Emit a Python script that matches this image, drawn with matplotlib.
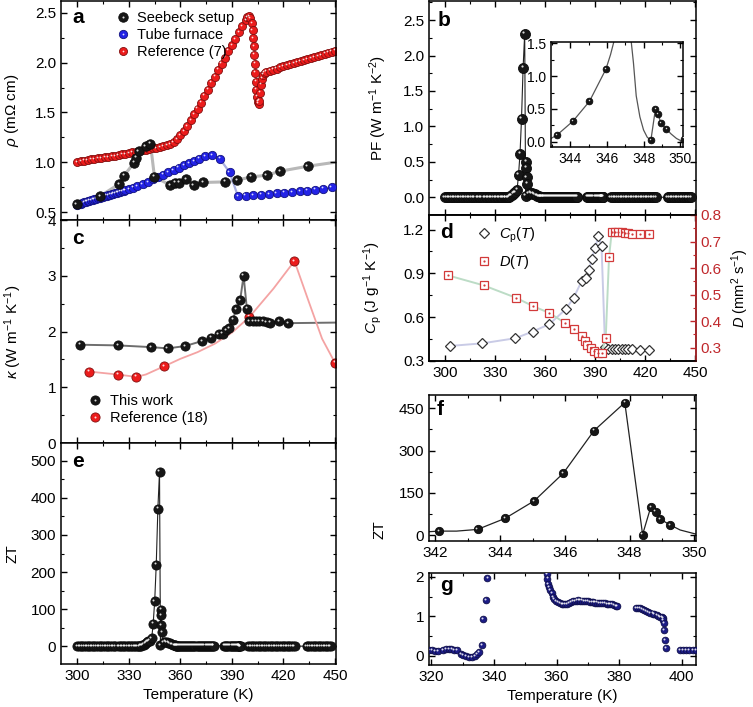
import matplotlib
matplotlib.use("Agg")
import matplotlib.pyplot as plt
import matplotlib.colors as mcolors
from matplotlib.ticker import MultipleLocator, NullFormatter
from matplotlib.transforms import offset_copy

plt.rcParams['font.family'] = ['Liberation Sans', 'DejaVu Sans']
plt.rcParams['mathtext.fontset'] = 'custom'
plt.rcParams['mathtext.rm'] = 'Liberation Sans'
plt.rcParams['mathtext.it'] = 'Liberation Sans:italic'
plt.rcParams['mathtext.bf'] = 'Liberation Sans:bold'
plt.rcParams['font.size'] = 10
plt.rcParams['axes.linewidth'] = 1.1

# ---------------- data ----------------
# (a) resistivity
T_see = [299.6, 313.2, 324.2, 327.1, 332.9, 334.4, 335.8, 339.7, 342.6, 344.9, 354.2,
         357.1, 359.4, 363.5, 367.7, 373.2, 386.1, 392.9, 401.2, 410.3, 418.0, 434.1]
rho_see = [0.577, 0.66, 0.78, 0.863, 0.993, 1.043, 1.113, 1.163, 1.187, 0.853, 0.77,
           0.793, 0.793, 0.827, 0.77, 0.797, 0.803, 0.82, 0.853, 0.87, 0.91, 0.96]
T_see_end = [450.0]
rho_see_end = [1.0]

T_tube = [300, 301, 302, 303, 304, 305, 306, 307, 308, 309, 310, 311, 312, 313, 314,
          315, 316, 317, 318, 319, 320, 321, 322, 323, 324, 325, 326, 327, 328,
          330, 332.5, 335, 338, 341, 344, 347, 350, 353, 356,
          359, 362, 365, 368, 371, 374.5, 378.5, 383, 388.6, 393.5,
          398, 402.5, 407, 411.5, 416, 420.5, 425, 429.5, 434, 438.5, 443, 448]
rho_tube = [0.575, 0.58, 0.585, 0.59, 0.60, 0.605, 0.61, 0.615, 0.62, 0.625,
            0.63, 0.635, 0.64, 0.645, 0.65, 0.655, 0.66, 0.665, 0.67, 0.675,
            0.68, 0.685, 0.69, 0.695, 0.70, 0.705, 0.71, 0.715, 0.72,
            0.73, 0.745, 0.76, 0.78, 0.80, 0.83, 0.85, 0.875, 0.90, 0.92,
            0.945, 0.97, 0.99, 1.01, 1.035, 1.06, 1.07, 1.035, 0.90, 0.66,
            0.665, 0.67, 0.675, 0.68, 0.69, 0.695, 0.70, 0.71, 0.715, 0.725, 0.735, 0.75]

T_ref7 = [300, 302, 304, 306, 308, 310, 312, 314, 316, 318, 320, 322, 324, 326, 328,
          330, 332, 334, 336, 338, 340, 342, 344, 346, 348, 350, 352, 354, 356, 358,
          360, 362, 364, 366, 368, 370, 372, 374, 376, 378, 380, 382, 384, 386, 388,
          390, 392, 394, 396, 398, 399, 400, 400.8, 401.5, 402, 402.4, 402.8, 403.1,
          403.4, 403.7, 404.0, 404.3, 404.6, 405.0, 405.5, 406.0, 406.5, 407.0, 407.5,
          408.2, 409, 410, 412, 414, 416, 418, 420, 422, 424, 426, 428, 430, 432, 434,
          436, 438, 440, 442, 444, 446, 448, 450]
rho_ref7 = [1.00, 1.01, 1.015, 1.02, 1.03, 1.035, 1.04, 1.045, 1.05, 1.055,
            1.06, 1.065, 1.075, 1.08, 1.085, 1.09, 1.10, 1.105, 1.11, 1.12,
            1.125, 1.13, 1.14, 1.145, 1.15, 1.16, 1.17, 1.18, 1.20, 1.23,
            1.27, 1.31, 1.36, 1.42, 1.48, 1.54, 1.60, 1.67, 1.73, 1.80,
            1.86, 1.93, 1.99, 2.05, 2.12, 2.18, 2.24, 2.31, 2.37, 2.43,
            2.46, 2.47, 2.45, 2.40, 2.33, 2.25, 2.17, 2.08, 1.99, 1.90,
            1.81, 1.73, 1.66, 1.61, 1.59, 1.62, 1.70, 1.78, 1.84, 1.88,
            1.90, 1.91, 1.92, 1.93, 1.94, 1.955, 1.965, 1.975, 1.985, 1.995,
            2.005, 2.015, 2.025, 2.035, 2.045, 2.055, 2.065, 2.075, 2.09, 2.10, 2.11, 2.12]

# (c) thermal conductivity
T_kap = [301.5, 323.6, 343.0, 352.6, 362.7, 372.6, 377.8, 382.2, 384.6, 386.5, 388.4,
         390.6, 392.5, 394.8, 396.8, 398.7, 400.2, 402.2, 404.1, 406.0, 408.0, 410.3,
         412.2, 417.7, 422.9]
kap = [1.763, 1.751, 1.72, 1.697, 1.739, 1.829, 1.889, 1.955, 1.961, 2.02, 2.063,
       2.213, 2.40, 2.562, 3.0, 2.41, 2.18, 2.18, 2.18, 2.18, 2.18, 2.17, 2.16, 2.18, 2.15]
T_kap_end = [450.0]
kap_end = [2.16]
T_kap18 = [306.8, 323.6, 334.4, 350.7, 400.2, 426.4, 450.0]
kap18 = [1.282, 1.228, 1.186, 1.378, 2.261, 3.264, 1.438]
T_kap18_fit = [306.8, 323.6, 334.4, 340.0, 345.0, 350.7, 360.0, 370.0, 380.0, 390.0,
               400.2, 414.2, 426.4, 434.8, 442.5, 450.0]
kap18_fit = [1.282, 1.228, 1.186, 1.23, 1.30, 1.378, 1.51, 1.63, 1.78, 1.98,
             2.261, 2.77, 3.264, 2.53, 1.87, 1.438]

# (b, e, f, g) power factor and ZT, same temperature points
T_zt = [300.0, 301.0, 302.0, 303.0, 304.0, 305.0, 306.0, 307.0, 308.0, 309.0, 310.0,
        311.0, 312.0, 313.0, 314.0, 315.0, 316.0, 317.0, 318.0, 319.3, 320.2, 321.1, 322.1,
        323.7, 324.6, 325.5, 326.4, 327.3, 328.1,
        329.3, 330.2, 331.1, 332.0, 332.9, 333.8, 334.5, 335.2, 336.0, 336.4, 337.3,
        337.9, 338.6, 339.3, 340.0, 340.8, 341.4,
        342.1, 343.3, 344.15, 345.05, 345.95, 346.9, 347.85, 348.4, 348.65, 348.8,
        348.95, 349.25,
        350.2, 351.1, 352.0, 352.9, 353.8, 354.7, 355.5, 356.2, 356.8, 357.1,
        357.4, 357.7, 358.0, 358.4, 358.8, 359.3, 359.8, 360.4, 361.0, 361.6,
        362.2, 362.8, 363.4, 364.0, 364.6, 365.2, 365.8, 366.4, 367.0, 367.6,
        368.2, 368.8, 369.4, 370.0, 370.6, 371.2, 371.8, 372.4, 373.0, 373.6,
        374.2, 374.8, 375.4, 376.0, 376.6, 377.2, 377.8, 378.4, 379.0, 379.3,
        385.4, 386.0, 386.7, 387.3, 388.0, 388.6, 389.3, 390.0, 390.7, 391.3,
        392.0, 392.6, 393.1, 393.6, 393.9, 394.1, 394.3, 394.4, 394.7, 395.0,
        399.5, 400.5, 401.5, 402.5, 403.5, 404.5, 405.5, 406.5, 407.5, 408.5,
        409.5, 410.5, 411.5, 412.5, 413.5, 414.5, 415.5, 416.5, 417.5, 418.5,
        419.5, 420.5, 421.5, 422.5, 423.5, 424.5, 425.5, 426.5,
        433.5, 434.5, 435.5, 436.5, 437.5, 438.5, 439.5, 440.5, 441.5, 442.5,
        443.5, 444.5, 445.5, 446.5, 447.5]
zt = [0.13, 0.13, 0.13, 0.13, 0.13, 0.13, 0.13, 0.13, 0.13, 0.13, 0.13,
      0.13, 0.13, 0.13, 0.13, 0.13, 0.13, 0.13, 0.13, 0.14, 0.13, 0.11, 0.11,
      0.15, 0.16, 0.16, 0.16, 0.15, 0.15,
      0.03, 0.01, -0.02, -0.04, -0.04, -0.01, 0.04, 0.09, 0.27, 0.92, 1.41,
      1.97, 4.0, 7.0, 10.0, 12.0, 13.0,
      15, 21, 60, 122, 220, 371, 470, 3, 99, 84,
      57, 37,
      11, 12, 11, 10, 8, 6, 4, 2.8, 2.08, 1.96,
      1.83, 1.74, 1.66, 1.58, 1.50, 1.44, 1.39, 1.36, 1.34, 1.32,
      1.31, 1.31, 1.32, 1.34, 1.36, 1.38, 1.39, 1.40, 1.41, 1.40,
      1.40, 1.39, 1.38, 1.38, 1.37, 1.36, 1.36, 1.35, 1.35, 1.34,
      1.34, 1.33, 1.33, 1.32, 1.32, 1.31, 1.30, 1.29, 1.27, 1.25,
      1.22, 1.21, 1.20, 1.18, 1.16, 1.14, 1.11, 1.09, 1.07, 1.05,
      1.03, 1.01, 0.99, 0.97, 0.95, 0.90, 0.82, 0.65, 0.40, 0.19,
      0.14, 0.14, 0.14, 0.14, 0.14, 0.14, 0.14, 0.14, 0.14, 0.14,
      0.14, 0.14, 0.14, 0.14, 0.14, 0.14, 0.14, 0.14, 0.14, 0.14,
      0.14, 0.14, 0.14, 0.14, 0.14, 0.14, 0.14, 0.14,
      0.14, 0.14, 0.14, 0.14, 0.14, 0.14, 0.14, 0.14, 0.14, 0.14,
      0.14, 0.14, 0.14, 0.14, 0.14]
pf = [0.0, 0.0, 0.0, 0.0, 0.0, 0.0, 0.0, 0.0, 0.0, 0.0, 0.0,
      0.0, 0.0, 0.0, 0.0, 0.0, 0.0, 0.0, 0.0, 0.0, 0.0, 0.0, 0.0,
      0.0, 0.0, 0.0, 0.0, 0.0, 0.0,
      0.0, 0.0, 0.0, 0.0, 0.0, 0.0, 0.0, 0.0, 0.0, 0.0, 0.0,
      0.0, 0.01, 0.02, 0.03, 0.045, 0.06,
      0.07, 0.108, 0.315, 0.617, 1.109, 1.83, 2.31, 0.025, 0.503, 0.419,
      0.281, 0.192,
      0.05, 0.06, 0.055, 0.05, 0.04, 0.03, 0.02, 0.014, 0.01, 0.01,
      0.01, 0.01, 0.01, 0.01, 0.01, 0.01, 0.01, 0.01, 0.01, 0.01,
      0.01, 0.01, 0.01, 0.01, 0.01, 0.01, 0.01, 0.01, 0.01, 0.01,
      0.01, 0.01, 0.01, 0.01, 0.01, 0.01, 0.01, 0.01, 0.01, 0.01,
      0.01, 0.01, 0.01, 0.01, 0.01, 0.01, 0.01, 0.01, 0.01, 0.01,
      0.01, 0.01, 0.01, 0.01, 0.01, 0.01, 0.01, 0.01, 0.01, 0.01,
      0.01, 0.01, 0.01, 0.01, 0.01, 0.01, 0.01, 0.01, 0.01, 0.01,
      0.0, 0.0, 0.0, 0.0, 0.0, 0.0, 0.0, 0.0, 0.0, 0.0,
      0.0, 0.0, 0.0, 0.0, 0.0, 0.0, 0.0, 0.0, 0.0, 0.0,
      0.0, 0.0, 0.0, 0.0, 0.0, 0.0, 0.0, 0.0,
      0.0, 0.0, 0.0, 0.0, 0.0, 0.0, 0.0, 0.0, 0.0, 0.0,
      0.0, 0.0, 0.0, 0.0, 0.0]

# fitted guide curves
T_ins_fit = [342.95, 343.3, 344.15, 345.05, 345.95, 346.2, 346.45, 347.3, 347.45, 347.6,
             347.8, 348.0, 348.2, 348.4, 348.65, 348.8, 348.95, 349.25, 349.5, 349.8, 350.15]
pf_ins_fit = [0.05, 0.108, 0.315, 0.617, 1.109, 1.33, 1.6, 1.6, 1.2, 0.7,
              0.38, 0.18, 0.07, 0.025, 0.503, 0.419, 0.281, 0.192, 0.12, 0.05, 0.0]
T_f_fit = [341.82, 342.1, 342.65, 343.3, 344.15, 345.05, 345.95, 346.9, 347.85, 348.4,
           348.65, 348.8, 348.95, 349.25, 349.56, 350.03]
zt_f_fit = [13, 15, 15, 21, 60, 122, 220, 371, 470, 3, 99, 84, 57, 37, 19, 5]

# (d) heat capacity and diffusivity
T_cp = [303.0, 322.5, 342.3, 352.7, 362.6, 372.5, 377.1, 381.9, 384.4, 386.4, 388.0,
        390.0, 392.0, 393.9, 396.0, 398.0, 400.0, 402.0, 404.0, 406.0, 408.0, 410.0,
        412.3, 417.2, 422.2]
cp = [0.403, 0.421, 0.456, 0.502, 0.552, 0.655, 0.731, 0.845, 0.868, 0.925, 0.998,
      1.074, 1.154, 1.085, 0.398, 0.379, 0.38, 0.38, 0.38, 0.38, 0.38, 0.38,
      0.379, 0.376, 0.376]
T_dif = [301.6, 323.2, 342.7, 352.7, 362.6, 372.1, 377.1, 382.1, 383.9, 385.4, 387.4,
         389.4, 391.8, 393.9, 396.4, 398.4, 400.0, 402.0, 404.0, 406.0, 408.0, 410.0,
         412.3, 417.2, 422.2]
dif = [0.573, 0.535, 0.488, 0.457, 0.431, 0.393, 0.372, 0.343, 0.324, 0.311, 0.299,
       0.286, 0.28, 0.28, 0.336, 0.642, 0.736, 0.736, 0.736, 0.735, 0.734, 0.732,
       0.730, 0.730, 0.727]


def darker(c, f=0.55):
    r, g, b = mcolors.to_rgb(c)
    return (r * f, g * f, b * f)


def balls(ax, x, y, color, ms, z=3, hl=0.22):
    h1, = ax.plot(x, y, ls='none', marker='o', ms=ms, mfc=color, mec=darker(color),
                  mew=0.6, zorder=z)
    tr = offset_copy(ax.transData, fig=ax.figure, x=-ms * 0.14, y=ms * 0.16, units='points')
    h2, = ax.plot(x, y, ls='none', marker='o', ms=ms * hl, mfc='white', mec='none',
                  alpha=0.85, zorder=z + 0.1, transform=tr)
    return (h1, h2)


def style(ax, xmaj, xmin, ymaj, ymin, right=True):
    ax.xaxis.set_major_locator(MultipleLocator(xmaj))
    ax.xaxis.set_minor_locator(MultipleLocator(xmin))
    ax.yaxis.set_major_locator(MultipleLocator(ymaj))
    ax.yaxis.set_minor_locator(MultipleLocator(ymin))
    ax.tick_params(which='both', direction='in', top=True, right=right, labelsize=11)
    ax.tick_params(which='major', length=4.5, width=1)
    ax.tick_params(which='minor', length=2.5, width=0.8)


def letter(ax, s, x, y):
    ax.text(x, y, s, transform=ax.transAxes, fontsize=15, fontweight='bold',
            ha='left', va='center')


fig = plt.figure(figsize=(7.53, 7.07), dpi=100)

ax_a = fig.add_axes([0.081, 0.6888, 0.365, 0.3098])
ax_c = fig.add_axes([0.081, 0.3734, 0.365, 0.3154])
ax_e = fig.add_axes([0.081, 0.0608, 0.365, 0.3126])
ax_b = fig.add_axes([0.5697, 0.6959, 0.3546, 0.3027])
ax_d = fig.add_axes([0.5697, 0.4894, 0.3546, 0.2065])
ax_f = fig.add_axes([0.5697, 0.2348, 0.3546, 0.2065])
ax_g = fig.add_axes([0.5697, 0.0594, 0.3546, 0.1301])
ax_i = fig.add_axes([0.7317, 0.792, 0.1753, 0.1485])

xl = (290.5, 450.5)

# ---- a ----
ax_a.plot(T_see + T_see_end, rho_see + rho_see_end, color='#b8b8b8', lw=2.2, zorder=1)
ax_a.plot(T_tube, rho_tube, color='#a9aee0', lw=1.6, zorder=1)
h_ref7 = balls(ax_a, T_ref7, rho_ref7, '#ec1c1c', 5.8, z=2)
h_tube = balls(ax_a, T_tube, rho_tube, '#2323e6', 6.0, z=3)
h_see = balls(ax_a, T_see, rho_see, '#161616', 6.8, z=4)
ax_a.set_xlim(*xl)
ax_a.set_ylim(0.42, 2.62)
style(ax_a, 30, 15, 0.5, 0.25)
ax_a.xaxis.set_major_formatter(NullFormatter())
ax_a.set_ylabel(r'$\rho$ (m$\Omega$ cm)', fontsize=11)
ax_a.yaxis.set_label_coords(-0.145, 0.5)
ax_a.legend([h_see, h_tube, h_ref7], ['Seebeck setup', 'Tube furnace', 'Reference (7)'],
            loc='upper left', bbox_to_anchor=(0.15, 1.015), frameon=False, fontsize=10.5,
            handlelength=1.0, handletextpad=0.5, labelspacing=0.2)
letter(ax_a, 'a', 0.04, 0.925)

# ---- c ----
ax_c.plot(T_kap + T_kap_end, kap + kap_end, color='#6e6e6e', lw=1.4, zorder=1)
ax_c.plot(T_kap18_fit, kap18_fit, color='#f4a3a3', lw=1.3, zorder=1)
h_tw = balls(ax_c, T_kap, kap, '#161616', 6.6, z=3)
h_18 = balls(ax_c, T_kap18, kap18, '#ec1c1c', 6.6, z=2)
ax_c.set_xlim(*xl)
ax_c.set_ylim(0, 4)
style(ax_c, 30, 15, 1, 0.5)
ax_c.xaxis.set_major_formatter(NullFormatter())
ax_c.set_ylabel(r'$\kappa$ (W m$^{-1}$ K$^{-1}$)', fontsize=11)
ax_c.yaxis.set_label_coords(-0.135, 0.5)
ax_c.legend([h_tw, h_18], ['This work', 'Reference (18)'], loc='lower left',
            bbox_to_anchor=(0.05, 0.02), frameon=False, fontsize=10.5,
            handlelength=1.0, handletextpad=0.5, labelspacing=0.25)
letter(ax_c, 'c', 0.04, 0.915)

# ---- e ----
ax_e.plot(T_zt, zt, color='#222222', lw=0.8, zorder=1)
balls(ax_e, T_zt, zt, '#161616', 6.6, z=3)
ax_e.set_xlim(*xl)
ax_e.set_ylim(-48, 548)
style(ax_e, 30, 15, 100, 50)
ax_e.set_ylabel('ZT', fontsize=11)
ax_e.yaxis.set_label_coords(-0.15, 0.5)
ax_e.set_xlabel('Temperature (K)', fontsize=11)
ax_e.xaxis.set_label_coords(0.5, -0.11)
letter(ax_e, 'e', 0.04, 0.915)

# ---- b ----
ax_b.plot(T_zt, pf, color='#222222', lw=0.8, zorder=1)
balls(ax_b, T_zt, pf, '#161616', 7.2, z=3)
ax_b.set_xlim(*xl)
ax_b.set_ylim(-0.25, 2.77)
style(ax_b, 30, 15, 0.5, 0.25)
ax_b.xaxis.set_major_formatter(NullFormatter())
ax_b.set_ylabel(r'PF (W m$^{-1}$ K$^{-2}$)', fontsize=11)
ax_b.yaxis.set_label_coords(-0.15, 0.5)
letter(ax_b, 'b', 0.033, 0.907)

# inset
ax_i.plot(T_ins_fit, pf_ins_fit, color='#555555', lw=0.9, zorder=1)
balls(ax_i, T_zt, pf, '#161616', 4.8, z=3)
ax_i.set_xlim(342.95, 350.15)
ax_i.set_ylim(-0.08, 1.52)
style(ax_i, 2, 1, 0.5, 0.25)
ax_i.tick_params(labelsize=10)

# ---- d ----
ax_d.plot(T_cp, cp, color='#c9cbe6', lw=1.4, zorder=1)
h_cp, = ax_d.plot(T_cp, cp, ls='none', marker='D', ms=5.2, mfc='white', mec='#333333',
                  mew=0.9, zorder=3)
ax_d.set_xlim(*xl)
ax_d.set_ylim(0.3, 1.3)
style(ax_d, 30, 15, 0.3, 0.15, right=False)
ax_d.set_ylabel(r'$C_\mathrm{p}$ (J g$^{-1}$ K$^{-1}$)', fontsize=11)
ax_d.yaxis.set_label_coords(-0.17, 0.5)
ax_d2 = ax_d.twinx()
ax_d2.plot(T_dif, dif, color='#bcdcc6', lw=1.4, zorder=1)
h_d1, = ax_d2.plot(T_dif, dif, ls='none', marker='s', ms=5.4, mfc='white', mec='#d23a3a',
                   mew=0.9, zorder=3)
h_d2, = ax_d2.plot(T_dif, dif, ls='none', marker='o', ms=1.6, mfc='#d23a3a', mec='none',
                   zorder=4)
ax_d2.set_ylim(0.25, 0.8)
ax_d2.yaxis.set_major_locator(MultipleLocator(0.1))
ax_d2.yaxis.set_minor_locator(MultipleLocator(0.05))
ax_d2.tick_params(which='both', direction='in', colors='#c0282c', labelsize=11)
ax_d2.tick_params(which='major', length=4.5, width=1)
ax_d2.tick_params(which='minor', length=2.5, width=0.8)
ax_d2.spines['right'].set_color('#c0282c')
ax_d2.set_ylabel(r'$D$ (mm$^2$ s$^{-1}$)', fontsize=10.5, color='black')
ax_d2.yaxis.set_label_coords(1.125, 0.5)
ax_d.legend([h_cp, (h_d1, h_d2)], [r'$C_\mathrm{p}(T)$', r'$D(T)$'], loc='upper left',
            bbox_to_anchor=(0.13, 1.02), frameon=False, fontsize=10.5,
            handlelength=1.0, handletextpad=0.5, labelspacing=0.6)
letter(ax_d, 'd', 0.04, 0.877)

# ---- f ----
ax_f.plot(T_f_fit, zt_f_fit, color='#222222', lw=0.9, zorder=1)
balls(ax_f, T_zt, zt, '#161616', 6.0, z=3)
ax_f.set_xlim(341.8, 350.05)
ax_f.set_ylim(-20, 497)
style(ax_f, 2, 1, 150, 75)
letter(ax_f, 'f', 0.03, 0.9)

# ---- g ----
balls(ax_g, T_zt, zt, '#1c1c86', 4.8, z=3, hl=0.3)
ax_g.set_xlim(319.2, 404.6)
ax_g.set_ylim(-0.24, 2.1)
style(ax_g, 20, 10, 1, 0.5)
ax_g.set_xlabel('Temperature (K)', fontsize=11)
ax_g.xaxis.set_label_coords(0.5, -0.26)
letter(ax_g, 'g', 0.04, 0.86)

fig.text(380 / 753, 1 - 530 / 707, 'ZT', rotation=90, ha='center', va='center', fontsize=11)

fig.savefig('out.png', dpi=100)
